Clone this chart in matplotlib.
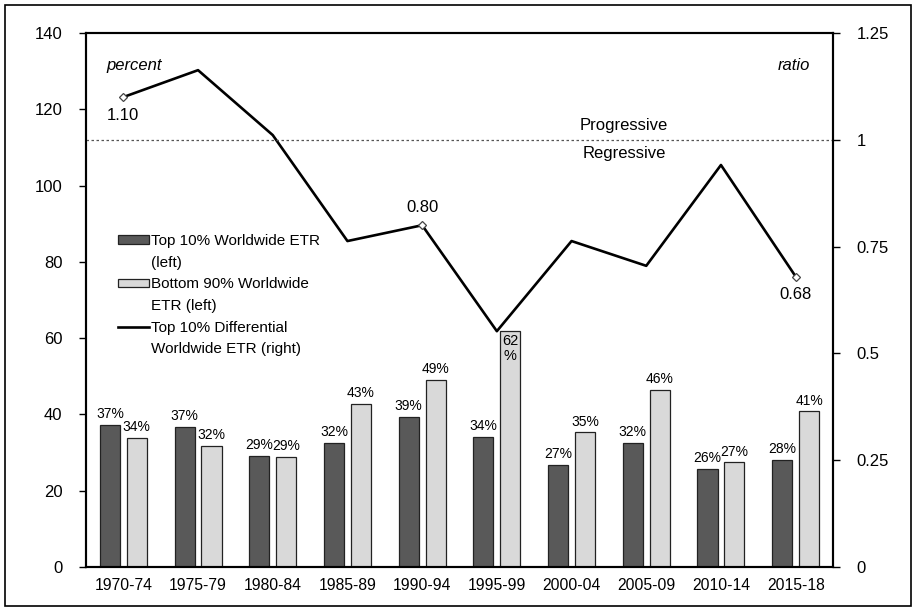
import matplotlib.pyplot as plt
import numpy as np
from matplotlib.patches import Rectangle
from matplotlib.lines import Line2D

plt.rcParams['font.family'] = ['Liberation Sans', 'DejaVu Sans']

periods = ["1970-74", "1975-79", "1980-84", "1985-89", "1990-94",
           "1995-99", "2000-04", "2005-09", "2010-14", "2015-18"]
top10 = [37.2, 36.8, 29.1, 32.5, 39.4, 34.1, 26.8, 32.5, 25.7, 28.0]
bottom90 = [33.9, 31.8, 28.8, 42.7, 49.0, 62.0, 35.3, 46.4, 27.4, 40.8]
ratio = [1.10, 1.163, 1.011, 0.763, 0.80, 0.552, 0.763, 0.705, 0.941, 0.68]
marked = [0, 4, 9]
legend_lines = [("Top 10% Worldwide ETR", "(left)"),
                ("Bottom 90% Worldwide", "ETR (left)"),
                ("Top 10% Differential", "Worldwide ETR (right)")]

x = np.arange(len(periods))
w = 0.27
off = 0.18
fs = 12

fig = plt.figure(figsize=(9.16, 6.11), dpi=100)
ax = fig.add_axes([86 / 916, 1 - 567 / 611, 747 / 916, 534 / 611])
fig.patches.append(Rectangle((5 / 916, 5 / 611), 906 / 916, 601 / 611,
                             transform=fig.transFigure, fill=False,
                             edgecolor='black', linewidth=1.2))

b1 = ax.bar(x - off, top10, w, color='#595959', edgecolor='#222222', linewidth=0.9)
b2 = ax.bar(x + off, bottom90, w, color='#d9d9d9', edgecolor='#222222', linewidth=0.9)

for xi, v in zip(x, top10):
    ax.text(xi - off, v + 1.0, f"{round(v)}%", ha='center', va='bottom', fontsize=10)
for xi, v in zip(x, bottom90):
    if v > 55:
        ax.text(xi + off, v - 0.8, f"{round(v)}\n%", ha='center', va='top', fontsize=10.5,
                linespacing=1.1)
    else:
        ax.text(xi + off, v + 1.0, f"{round(v)}%", ha='center', va='bottom', fontsize=10)

ax.set_xlim(-0.5, 9.5)
ax.set_ylim(0, 140)
ax.set_yticks(range(0, 141, 20))
ax.set_xticks(x)
ax.set_xticklabels(periods)
ax.tick_params(axis='x', length=0, pad=8, labelsize=11.3)
ax.tick_params(axis='y', length=5, width=1, labelsize=fs, pad=12)
for s in ax.spines.values():
    s.set_linewidth(1.5)

ax2 = ax.twinx()
ax2.set_ylim(0, 1.25)
ax2.set_yticks([0, 0.25, 0.5, 0.75, 1, 1.25])
ax2.set_yticklabels(["0", "0.25", "0.5", "0.75", "1", "1.25"])
ax2.tick_params(axis='y', length=5, width=1, labelsize=fs, pad=12)
for s in ax2.spines.values():
    s.set_linewidth(1.5)

ln, = ax2.plot(x, ratio, color='black', linewidth=1.9)
ax2.plot(x[marked], [ratio[i] for i in marked], linestyle='none', marker='D',
         markersize=4.5, markerfacecolor='white', markeredgecolor='#444444',
         markeredgewidth=0.9)
ax2.text(x[0], ratio[0] - 0.025, "1.10", ha='center', va='top', fontsize=fs)
ax2.text(x[4], ratio[4] + 0.025, "0.80", ha='center', va='bottom', fontsize=fs)
ax2.text(x[9], ratio[9] - 0.025, "0.68", ha='center', va='top', fontsize=fs)

ax2.axhline(1, color='#555555', linewidth=0.9, linestyle=(0, (2, 2)))
ax2.text(6.7, 1.015, "Progressive", ha='center', va='bottom', fontsize=fs)
ax2.text(6.7, 0.985, "Regressive", ha='center', va='top', fontsize=fs)

ax.text(0.027, 0.94, "percent", transform=ax.transAxes, style='italic',
        fontsize=fs, ha='left', va='center')
ax.text(0.97, 0.94, "ratio", transform=ax.transAxes, style='italic',
        fontsize=fs, ha='right', va='center')

# legend: one row per text line so the key sits level with the first line
blank = Line2D([], [], linestyle='none')
handles, labels = [], []
for h, (l1, l2) in zip([b1, b2, ln], legend_lines):
    handles += [h, blank]
    labels += [l1, l2]
ax2.legend(handles, labels, loc='upper left', bbox_to_anchor=(0.035, 0.635),
           frameon=False, fontsize=11, handlelength=2.0, handleheight=0.45,
           handletextpad=0.15, labelspacing=0.5, borderaxespad=0)

fig.savefig("out.png", dpi=100)
